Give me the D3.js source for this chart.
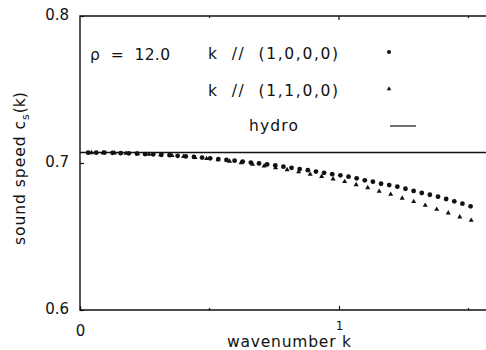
<!DOCTYPE html>
<html>
<head>
<meta charset="utf-8">
<script src="https://cdn.jsdelivr.net/npm/d3@7/dist/d3.min.js"></script>
<style>
  html, body { margin: 0; padding: 0; background: #fff; }
  svg { display: block; }
  text { font-family: "DejaVu Sans", "Lato", sans-serif; fill: #111; }
</style>
</head>
<body>
<svg id="chart" width="486" height="350"></svg>
<script>
// Sound speed vs wavenumber, density rho = 12.0
const dk = 2 * Math.PI / 200;            // lattice wavenumber spacing
const hydro = 0.7071;                    // hydrodynamic limit

// k along (1,0,0,0): k = n * dk, n = 1..48
const circleN = d3.range(1, 49);
const circleC = [
  0.7070, 0.7070, 0.7070, 0.7069, 0.7067, 0.7066, 0.7064, 0.7061, 0.7059, 0.7056,
  0.7053, 0.7049, 0.7045, 0.7041, 0.7037, 0.7032, 0.7027, 0.7021, 0.7016, 0.7010,
  0.7003, 0.6997, 0.6990, 0.6983, 0.6975, 0.6967, 0.6959, 0.6951, 0.6942, 0.6933,
  0.6924, 0.6916, 0.6907, 0.6896, 0.6882, 0.6873, 0.6859, 0.6850, 0.6839, 0.6825,
  0.6810, 0.6796, 0.6784, 0.6771, 0.6755, 0.6739, 0.6723, 0.6705
];

// k along (1,1,0,0): k = n * sqrt(2) * dk, n = 1..34
const triN = d3.range(1, 35);
const triC = [
  0.7070, 0.7070, 0.7068, 0.7066, 0.7063, 0.7059, 0.7055, 0.7050, 0.7044, 0.7037,
  0.7030, 0.7021, 0.7012, 0.7002, 0.6991, 0.6980, 0.6967, 0.6954, 0.6940, 0.6924,
  0.6908, 0.6891, 0.6873, 0.6852, 0.6832, 0.6807, 0.6787, 0.6760, 0.6737, 0.6712,
  0.6685, 0.6660, 0.6633, 0.6610
];

const yTicks = [0.6, 0.7, 0.8];
const xTicks = [0, 1];
const xMinor = [0.5, 1.5];

const mLeft = 80, mTop = 16, mBottom = 310, mRight = 486;
const svg = d3.select("#chart");

const x = d3.scaleLinear().domain([0, (mRight - mLeft) / 259]).range([mLeft, mRight]);
const y = d3.scaleLinear().domain([0.6, 0.8]).range([mBottom, mTop]);

const ink = "#111";

// frame (open on the right)
svg.append("path")
  .attr("d", `M${mRight},${mTop}H${mLeft}V${mBottom}H${mRight}`)
  .attr("fill", "none").attr("stroke", ink).attr("stroke-width", 1.4);

// y axis labels and inward ticks
const yAxis = d3.axisLeft(y).tickValues(yTicks).tickSizeInner(-4).tickSizeOuter(0)
  .tickPadding(11).tickFormat(d3.format(".1f"));
const gy = svg.append("g").attr("transform", `translate(${mLeft},0)`).call(yAxis);
gy.select(".domain").remove();
gy.selectAll("line").attr("stroke", ink).attr("stroke-width", 1.2);
gy.selectAll("text").style("font-size", "15px").style("font-family", "DejaVu Sans")
  .attr("dy", "0.22em").attr("fill", ink);

// x axis labels and inward ticks
const xAxis = d3.axisBottom(x).tickValues(xTicks).tickSizeInner(-4).tickSizeOuter(0)
  .tickPadding(0).tickFormat(d3.format("d"));
const gx = svg.append("g").attr("transform", `translate(0,${mBottom})`).call(xAxis);
gx.select(".domain").remove();
gx.selectAll("line").attr("stroke", ink).attr("stroke-width", 1.2);
gx.selectAll("text").style("font-family", "DejaVu Sans").attr("fill", ink)
  .attr("dy", null)
  .attr("y", d => d === 0 ? 26 : 20)
  .style("font-size", d => d === 0 ? "15px" : "12px");

// top ticks
svg.append("g").selectAll("line").data(xTicks.filter(d => d > 0)).join("line")
  .attr("x1", d => x(d)).attr("x2", d => x(d)).attr("y1", mTop).attr("y2", mTop + 4)
  .attr("stroke", ink).attr("stroke-width", 1.2);
// minor ticks
svg.append("g").selectAll("line").data(xMinor.flatMap(d => [[d, mBottom, -2], [d, mTop, 2]])).join("line")
  .attr("x1", d => x(d[0])).attr("x2", d => x(d[0])).attr("y1", d => d[1]).attr("y2", d => d[1] + d[2])
  .attr("stroke", ink).attr("stroke-width", 1.2);

// hydrodynamic sound speed
svg.append("line")
  .attr("x1", mLeft).attr("x2", mRight).attr("y1", y(hydro)).attr("y2", y(hydro))
  .attr("stroke", ink).attr("stroke-width", 1.4);

// (1,0,0,0) points
svg.append("g").selectAll("circle").data(circleN).join("circle")
  .attr("cx", n => x(n * dk)).attr("cy", (n, i) => y(circleC[i]))
  .attr("r", 2.4).attr("fill", ink);

// (1,1,0,0) points
const tri = d3.symbol().type(d3.symbolTriangle).size(11);
svg.append("g").selectAll("path").data(triN).join("path")
  .attr("d", tri)
  .attr("transform", (n, i) => `translate(${x(n * Math.SQRT2 * dk)},${y(triC[i])})`)
  .attr("fill", ink);

// legend
const lg = svg.append("g").style("font-size", "15.5px");
const label = (g, tx, ty, s, w) => g.append("text").attr("x", tx).attr("y", ty)
  .attr("textLength", w).attr("lengthAdjust", "spacing").attr("xml:space", "preserve").text(s);
label(lg, 90, 60, "ρ  =  12.0", 80);
label(lg, 208, 59, "k  //  (1,0,0,0)", 130);
label(lg, 208, 96, "k  //  (1,1,0,0)", 130);
label(lg, 249, 131, "hydro", 49);
svg.append("circle").attr("cx", 389).attr("cy", 52).attr("r", 2).attr("fill", ink);
svg.append("path").attr("d", d3.symbol().type(d3.symbolTriangle).size(9))
  .attr("transform", "translate(389,89)").attr("fill", ink);
svg.append("line").attr("x1", 390).attr("x2", 416).attr("y1", 126).attr("y2", 126)
  .attr("stroke", ink).attr("stroke-width", 1.2);

// axis titles
svg.append("text").attr("x", 227).attr("y", 347)
  .attr("textLength", 124).attr("lengthAdjust", "spacing")
  .style("font-size", "15.5px").text("wavenumber k");
const yt = svg.append("text").attr("transform", "translate(25,245) rotate(-90)")
  .style("font-size", "15.5px");
yt.append("tspan").attr("textLength", 124).attr("lengthAdjust", "spacing").text("sound speed c");
yt.append("tspan").attr("dy", 4).style("font-size", "11px").text("s");
yt.append("tspan").attr("dy", -4).attr("dx", 1).text("(k)");
</script>
</body>
</html>
